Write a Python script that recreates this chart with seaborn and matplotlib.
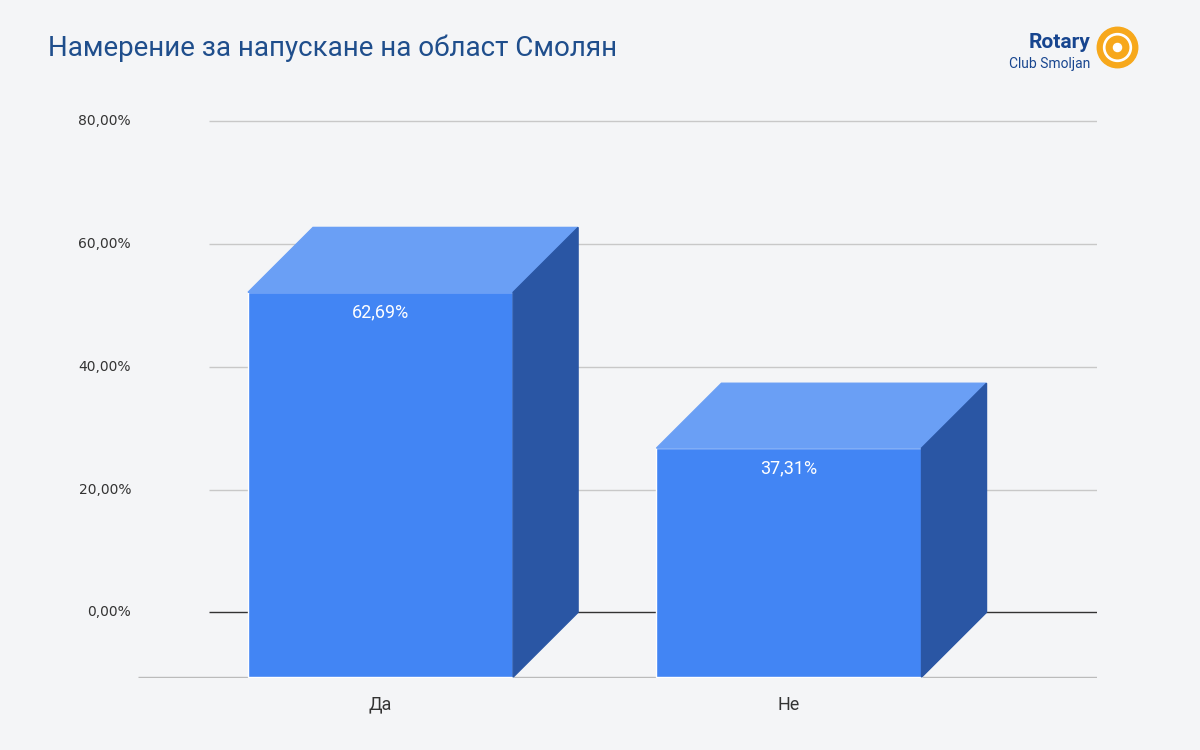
import numpy as np
import matplotlib.pyplot as plt
import seaborn as sns
from matplotlib.patches import Polygon, Circle

categories = ["Да", "Не"]
values = [62.69, 37.31]
value_labels = ["62,69%", "37,31%"]
y_ticks = [0, 20, 40, 60, 80]
y_tick_labels = ["0,00%", "20,00%", "40,00%", "60,00%", "80,00%"]

sns.set_theme(style="white", font="Roboto")
fig = plt.figure(figsize=(12, 7.5), dpi=100)
fig.patch.set_facecolor("#f4f5f7")
ax = fig.add_axes([138/1200, 1-678/750, (1097-138)/1200, (678-115)/750])
ax.set_facecolor("none")
ax.set_xlim(-0.753, 1.595)
ax.set_ylim(-10.7, 81)
ax.axis("off")

front_c, top_c, side_c = "#4285F4", "#6A9FF5", "#2A56A4"
w = 0.649
dx = 65/408.5
dy = 65*20/123

# back wall grid
for t, lab in zip(y_ticks, y_tick_labels):
    ax.hlines(t, -0.579, 1.595, color="#333333" if t == 0 else "#c8c8c8", lw=1, zorder=1)
    ax.text(-0.770, t, lab, ha="right", va="center", fontsize=10, color="#333333",
            family="DejaVu Sans")
ax.hlines(-dy, -0.753, 1.595, color="#bbbbbb", lw=1, zorder=1)

x = np.arange(len(categories))
# front faces, shifted forward by the depth offset
ax.bar(x - dx, values, width=w, bottom=-dy, color=front_c, zorder=3)
for xi, v, lab, cat in zip(x, values, value_labels, categories):
    x0, x1 = xi - w/2, xi + w/2
    top = [(x0-dx, v-dy), (x1-dx, v-dy), (x1, v), (x0, v)]
    side = [(x1-dx, v-dy), (x1, v), (x1, 0), (x1-dx, -dy)]
    ax.add_patch(Polygon(top, color=top_c, zorder=3))
    ax.add_patch(Polygon(side, color=side_c, zorder=3))
    ax.text(xi-dx, v-dy-3.3, lab, ha="center", va="center", color="white", fontsize=13, zorder=4)
    ax.text(xi-dx, -dy-4.5, cat, ha="center", va="center", color="#333333", fontsize=13)

fig.text(48/1200, 1-48/750, "Намерение за напускане на област Смолян", fontsize=20,
         color="#1f4e8c", va="center", ha="left")
fig.text(1090/1200, 1-43/750, "Rotary", fontsize=15, fontweight="bold", color="#17458f",
         ha="right", va="center")
fig.text(1090/1200, 1-64/750, "Club Smoljan", fontsize=10, color="#17458f", ha="right", va="center")
lax = fig.add_axes([1095/1200, 1-70/750, 45/1200, 45/750])
lax.set_xlim(-1, 1); lax.set_ylim(-1, 1); lax.set_aspect("equal"); lax.axis("off")
lax.add_patch(Circle((0, 0), 0.9, color="#f7a81b"))
lax.add_patch(Circle((0, 0), 0.62, color="white"))
lax.add_patch(Circle((0, 0), 0.5, color="#f7a81b"))
lax.add_patch(Circle((0, 0), 0.18, color="white"))

fig.savefig("out.png", dpi=100, facecolor=fig.get_facecolor())
